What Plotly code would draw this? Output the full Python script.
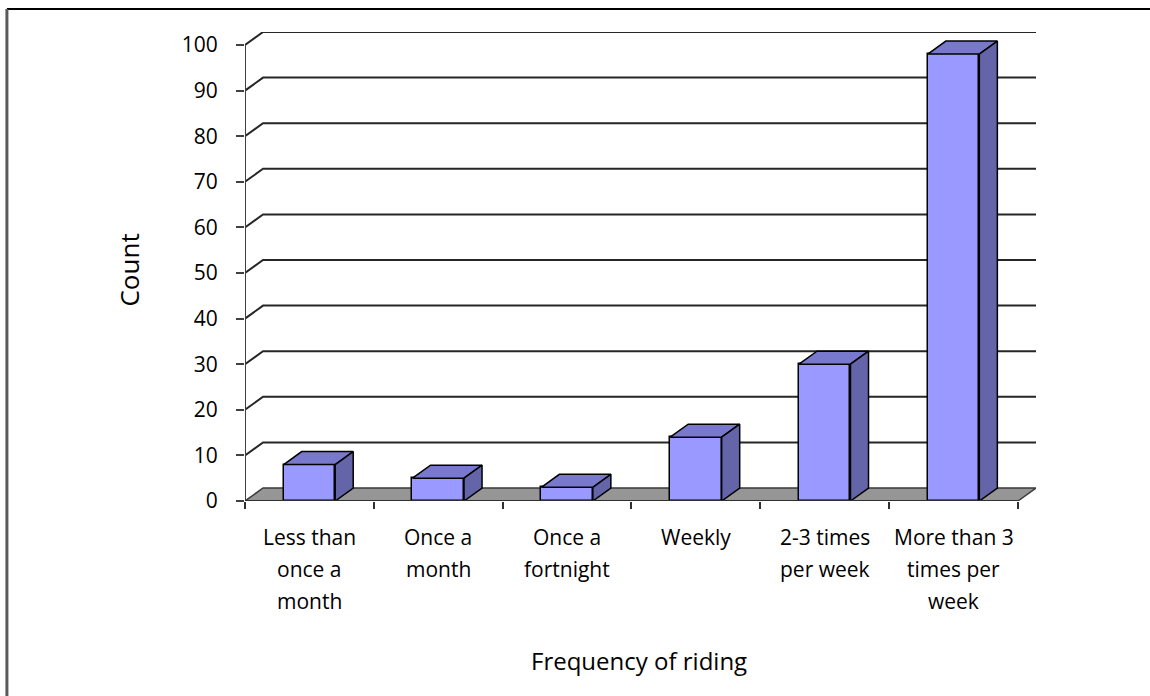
import plotly.graph_objects as go

categories = [["Less than", "once a", "month"], ["Once a", "month"], ["Once a", "fortnight"],
              ["Weekly"], ["2-3 times", "per week"], ["More than 3", "times per", "week"]]
counts = [8, 5, 3, 14, 30, 98]
y_ticks = [0, 10, 20, 30, 40, 50, 60, 70, 80, 90, 100]
x_title = "Frequency of riding"
y_title = "Count"

FRONT = "#9999FF"
TOP = "#7878CC"
SIDE = "#6464A8"
FLOOR = "#969696"
GRID = "#262626"
FONT = "Open Sans"

n = len(categories)
dx = 0.14   # depth offset in x units
dy = 2.85   # depth offset in y units
half = 0.2

xc = [i + 0.5 for i in range(n)]

fig = go.Figure()

# front faces
fig.add_trace(go.Bar(x=xc, y=counts, width=2 * half, marker=dict(color=FRONT, line=dict(color="black", width=1.5)),
                     hoverinfo="skip", showlegend=False))

# top and side faces
for c, v in zip(xc, counts):
    x1, x2 = c - half, c + half
    fig.add_trace(go.Scatter(x=[x1, x1 + dx, x2 + dx, x2, x1], y=[v, v + dy, v + dy, v, v],
                             fill="toself", fillcolor=TOP, mode="lines",
                             line=dict(color="black", width=1.5), hoverinfo="skip", showlegend=False))
    fig.add_trace(go.Scatter(x=[x2, x2 + dx, x2 + dx, x2, x2], y=[v, v + dy, dy, 0, v],
                             fill="toself", fillcolor=SIDE, mode="lines",
                             line=dict(color="black", width=1.5), hoverinfo="skip", showlegend=False))

shapes = []
# floor
shapes.append(dict(type="path", xref="x", yref="y", layer="below",
                   path=f"M 0 0 L {n} 0 L {n + dx} {dy} L {dx} {dy} Z",
                   fillcolor=FLOOR, line=dict(color="#3a3a3a", width=1.5)))
# back wall gridlines
for t in y_ticks[1:]:
    shapes.append(dict(type="path", xref="x", yref="y", layer="below",
                       path=f"M 0 {t} L {dx} {t + dy} L {n + dx} {t + dy}",
                       line=dict(color=GRID, width=2)))
# value axis line
shapes.append(dict(type="line", xref="x", yref="y", layer="below", x0=0, y0=0, x1=0, y1=y_ticks[-1],
                   line=dict(color="#404040", width=2)))
# category axis line
shapes.append(dict(type="line", xref="x", yref="y", x0=0, y0=0, x1=n, y1=0,
                   line=dict(color="#303030", width=2)))
# outer frame (top and left)
shapes.append(dict(type="line", xref="paper", yref="paper", x0=-0.301, y0=1.049, x1=1.2, y1=1.049,
                   line=dict(color="black", width=2)))
shapes.append(dict(type="line", xref="paper", yref="paper", x0=-0.301, y0=1.049, x1=-0.301, y1=-0.5,
                   line=dict(color="#5a5a5a", width=3)))

annotations = []
for c, lines in zip(xc, categories):
    for k, line in enumerate(lines):
        annotations.append(dict(x=c, y=0, xref="x", yref="paper", text=line, showarrow=False,
                                yanchor="middle", xanchor="center", yshift=-36 - 32 * k,
                                font=dict(family=FONT, size=21, color="black")))
annotations.append(dict(x=0.4987, y=-0.341, xref="paper", yref="paper", text=x_title, showarrow=False,
                        xanchor="center", yanchor="middle",
                        font=dict(family=FONT, size=24, color="black")))
annotations.append(dict(x=-0.146, y=0.4925, xref="paper", yref="paper", text=y_title, showarrow=False,
                        xanchor="center", yanchor="middle",
                        textangle=-90, font=dict(family=FONT, size=26, color="black")))

fig.update_layout(
    width=1150, height=696,
    margin=dict(l=245, r=114, t=32, b=195),
    paper_bgcolor="white", plot_bgcolor="white",
    shapes=shapes, annotations=annotations,
    showlegend=False, bargap=0,
    xaxis=dict(range=[0, n + dx], showgrid=False, zeroline=False, showline=False,
               tickvals=xc, ticktext=[""] * n, ticks="", fixedrange=True,
               minor=dict(ticks="outside", tick0=0, dtick=1, ticklen=7, tickcolor="#303030", tickwidth=1.5)),
    yaxis=dict(range=[0, y_ticks[-1] + dy], showgrid=False, zeroline=False, showline=False,
               tickvals=y_ticks, ticks="outside", ticklen=8, tickcolor="#404040", tickwidth=1.5,
               ticklabelstandoff=14, tickfont=dict(family=FONT, size=21, color="black"), fixedrange=True),
)

fig.write_html("out.html", config={"displayModeBar": False},
               post_script="document.body.style.margin='0';document.body.style.overflow='hidden';")
